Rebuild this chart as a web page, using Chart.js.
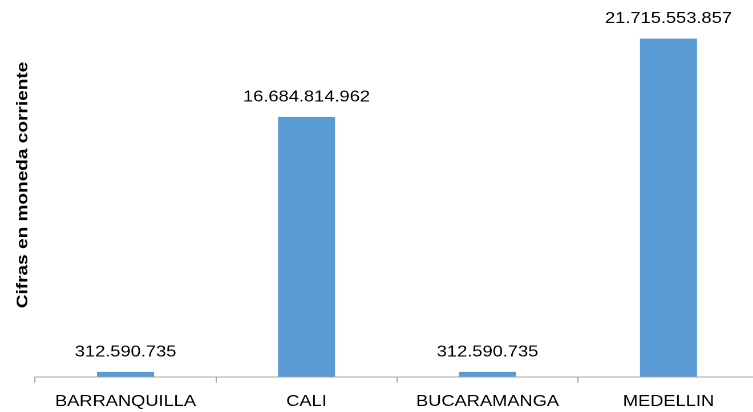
<!DOCTYPE html>
<html>
<head>
<meta charset="utf-8">
<script src="https://cdn.jsdelivr.net/npm/chart.js@4/dist/chart.umd.min.js"></script>
<style>
  html, body { margin: 0; padding: 0; background: #fff; overflow: hidden; }
  #wrap { width: 670px; height: 412px; transform: scaleX(1.141); transform-origin: 0 0; }
</style>
</head>
<body>
<div id="wrap"><canvas id="chart" width="670" height="412"></canvas></div>
<script>
const ciudades = ['BARRANQUILLA', 'CALI', 'BUCARAMANGA', 'MEDELLIN'];
const montos = [312590735, 16684814962, 312590735, 21715553857];
const tituloEjeY = 'Cifras en moneda corriente';

const STRETCH = 1.141;
const FONT = "'Liberation Sans', Arial, sans-serif";

// 21715553857 -> "21.715.553.857"
function formatoMiles(n) {
  return String(Math.round(n)).replace(/\B(?=(\d{3})+(?!\d))/g, '.');
}

// value labels above each bar
const etiquetasValor = {
  id: 'etiquetasValor',
  afterDatasetsDraw(chart) {
    const ctx = chart.ctx;
    const meta = chart.getDatasetMeta(0);
    ctx.save();
    ctx.font = '16px ' + FONT;
    ctx.fillStyle = '#000';
    ctx.textAlign = 'center';
    ctx.textBaseline = 'alphabetic';
    meta.data.forEach((bar, i) => {
      ctx.fillText(formatoMiles(montos[i]), bar.x, bar.y - 15.5);
    });
    ctx.restore();
  }
};

// rotated axis title on the left
const tituloVertical = {
  id: 'tituloVertical',
  afterDraw(chart) {
    const ctx = chart.ctx;
    ctx.save();
    ctx.translate(24.1, 185);
    ctx.scale(1 / STRETCH, 1);   // keep glyph thickness unaffected by the page stretch
    ctx.rotate(-Math.PI / 2);
    ctx.scale(1.19, 1);          // a bit longer along the axis
    ctx.font = 'bold 16px ' + FONT;
    ctx.fillStyle = '#000';
    ctx.textAlign = 'center';
    ctx.textBaseline = 'alphabetic';
    ctx.fillText(tituloEjeY, 0, 0);
    ctx.restore();
  }
};

new Chart(document.getElementById('chart').getContext('2d'), {
  type: 'bar',
  data: {
    labels: ciudades,
    datasets: [{
      data: montos,
      backgroundColor: '#5B9BD5',
      borderWidth: 0,
      barPercentage: 0.315,
      categoryPercentage: 1.0
    }]
  },
  options: {
    responsive: false,
    devicePixelRatio: 2,
    animation: false,
    layout: { padding: { top: 3, left: 30.7, right: 4.8, bottom: -8 } },
    plugins: {
      legend: { display: false },
      tooltip: { enabled: false }
    },
    scales: {
      x: {
        grid: {
          display: true,
          drawOnChartArea: false,
          drawTicks: true,
          tickLength: 6,
          color: '#a6a6a6',
          offset: true
        },
        border: { display: true, color: '#a6a6a6', width: 1 },
        ticks: {
          color: '#000',
          font: { family: FONT, size: 16 },
          padding: 9,
          maxRotation: 0,
          autoSkip: false
        }
      },
      y: {
        display: false,
        min: 0,
        max: 24000000000
      }
    }
  },
  plugins: [etiquetasValor, tituloVertical]
});
</script>
</body>
</html>
